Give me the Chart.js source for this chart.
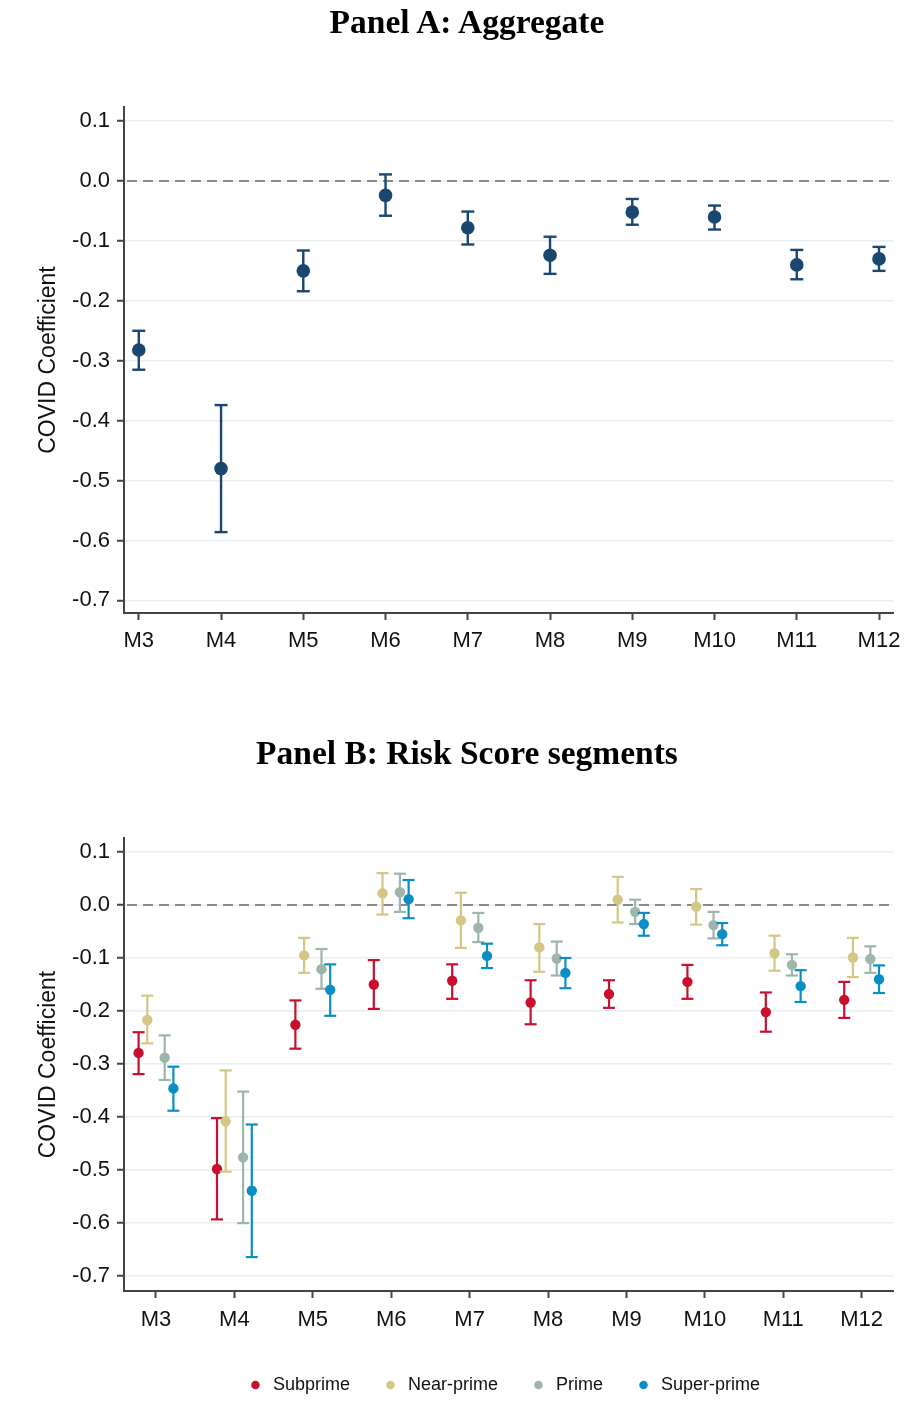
<!DOCTYPE html>
<html>
<head>
<meta charset="utf-8">
<script src="https://cdn.jsdelivr.net/npm/chart.js@4.4.1/dist/chart.umd.min.js"></script>
<style>
html,body{margin:0;padding:0;background:#fff;}
#page{position:relative;width:904px;height:1425px;overflow:hidden;background:#fff;}
.title{position:absolute;left:0;width:934px;text-align:center;font-family:"Liberation Serif",serif;font-weight:bold;font-size:33.5px;line-height:40px;color:#000;z-index:2;}
.box{position:absolute;left:0;width:904px;}
</style>
</head>
<body>
<div id="page">
  <div class="title" style="top:2px;">Panel A: Aggregate</div>
  <div class="box" style="top:0px;height:680px;"><canvas id="chartA"></canvas></div>
  <div class="title" style="top:733px;">Panel B: Risk Score segments</div>
  <div class="box" style="top:700px;height:725px;"><canvas id="chartB"></canvas></div>
</div>
<script>
// ---------------- DATA ----------------
const categories = ['M3','M4','M5','M6','M7','M8','M9','M10','M11','M12'];
const yTickValues = [0.1, 0.0, -0.1, -0.2, -0.3, -0.4, -0.5, -0.6, -0.7];

// Panel A: aggregate
const aggCoef = [-0.282, -0.480, -0.150, -0.024, -0.078, -0.124, -0.052, -0.060, -0.140, -0.130];
const aggLow  = [-0.315, -0.586, -0.184, -0.058, -0.106, -0.155, -0.073, -0.081, -0.164, -0.150];
const aggHigh = [-0.250, -0.374, -0.116,  0.011, -0.051, -0.093, -0.030, -0.041, -0.115, -0.110];

// Panel B: risk score segments
const seriesNames = ['Subprime', 'Near-prime', 'Prime', 'Super-prime'];
const subCoef   = [-0.279, -0.498, -0.226, -0.150, -0.143, -0.184, -0.168, -0.145, -0.202, -0.179];
const subLow    = [-0.319, -0.593, -0.271, -0.196, -0.177, -0.225, -0.194, -0.177, -0.239, -0.213];
const subHigh   = [-0.240, -0.402, -0.180, -0.104, -0.112, -0.142, -0.142, -0.113, -0.165, -0.145];
const nearCoef  = [-0.217, -0.408, -0.095,  0.022, -0.029, -0.080,  0.010, -0.003, -0.091, -0.099];
const nearLow   = [-0.261, -0.503, -0.128, -0.018, -0.081, -0.126, -0.033, -0.037, -0.124, -0.136];
const nearHigh  = [-0.171, -0.312, -0.062,  0.060,  0.023, -0.036,  0.053,  0.030, -0.058, -0.062];
const primeCoef = [-0.288, -0.476, -0.121,  0.024, -0.043, -0.101, -0.013, -0.038, -0.113, -0.102];
const primeLow  = [-0.330, -0.600, -0.158, -0.013, -0.070, -0.133, -0.036, -0.063, -0.133, -0.128];
const primeHigh = [-0.246, -0.352, -0.083,  0.059, -0.015, -0.069,  0.010, -0.013, -0.093, -0.078];
const superCoef = [-0.346, -0.539, -0.160,  0.011, -0.096, -0.128, -0.036, -0.055, -0.153, -0.140];
const superLow  = [-0.388, -0.664, -0.209, -0.025, -0.119, -0.157, -0.058, -0.076, -0.183, -0.166];
const superHigh = [-0.305, -0.414, -0.112,  0.047, -0.073, -0.100, -0.015, -0.034, -0.123, -0.114];

// ---------------- STYLE ----------------
const NAVY = '#1a476f';
const seriesColors = ['#c8102e', '#d4c684', '#9db5ab', '#0b8ec4'];
const seriesOffsets = [-0.222, -0.111, 0.111, 0.222];
const TICK_FONT = {family: 'Liberation Sans, Arial, sans-serif', size: 22};
const AXIS_COLOR = '#444';

function barData(low, high, off) {
  const d = [];
  low.forEach((l, i) => {
    d.push({x: i + off, y: l});
    d.push({x: i + off, y: high[i]});
    d.push({x: i + off, y: null});
  });
  return d;
}
function pointData(coef, off) {
  return coef.map((v, i) => ({x: i + off, y: v}));
}

const zeroLine = {
  id: 'zeroLine',
  beforeDatasetsDraw(chart) {
    const {ctx, chartArea: a, scales: {y}} = chart;
    const py = y.getPixelForValue(0);
    ctx.save();
    ctx.strokeStyle = '#888888';
    ctx.lineWidth = 2;
    ctx.setLineDash([10, 6]);
    ctx.beginPath();
    ctx.moveTo(a.left + 3, py);
    ctx.lineTo(a.right - 2, py);
    ctx.stroke();
    ctx.restore();
  }
};

const centerLegend = {
  id: 'centerLegend',
  afterLayout(chart) {
    const lg = chart.legend;
    if (!lg || !lg.options.display) return;
    const a = chart.chartArea;
    const shift = (a.left + a.right) / 2 - 5 - (lg.left + lg.right) / 2;
    lg.left += shift;
    lg.right += shift;
  }
};

function makeScales(xmin, xmax, ymin, ymax, xHeight, xPad) {
  return {
    x: {
      type: 'linear', min: xmin, max: xmax,
      afterBuildTicks(s) { s.ticks = categories.map((c, i) => ({value: i})); },
      afterFit(s) { s.height = xHeight; s.paddingLeft = 0; s.paddingRight = 0; },
      ticks: {
        callback: (v) => categories[v],
        font: TICK_FONT, color: '#111', padding: xPad, autoSkip: false, maxRotation: 0
      },
      grid: {drawOnChartArea: false, drawTicks: true, tickLength: 7, tickColor: AXIS_COLOR, tickWidth: 2},
      border: {display: true, color: AXIS_COLOR, width: 2}
    },
    y: {
      type: 'linear', min: ymin, max: ymax,
      afterBuildTicks(s) { s.ticks = yTickValues.map(v => ({value: v})); },
      afterFit(s) { s.width = 124; },
      ticks: {
        callback: (v) => Number(v).toFixed(1),
        font: TICK_FONT, color: '#111', padding: 7
      },
      grid: {color: '#e8eef2', lineWidth: 1.5, drawTicks: true, tickLength: 7, tickColor: AXIS_COLOR, tickWidth: 2},
      border: {display: true, color: AXIS_COLOR, width: 2},
      title: {
        display: true, text: 'COVID Coefficient',
        font: {family: 'Liberation Sans, Arial, sans-serif', size: 23}, color: '#111',
        padding: {top: 35, bottom: 0}
      }
    }
  };
}

function errorBarDataset(label, low, high, off, color, cap, lw, order) {
  return {
    type: 'line', label: label, isErrorBar: true,
    data: barData(low, high, off),
    borderColor: color, borderWidth: lw, spanGaps: false, tension: 0, fill: false,
    pointStyle: 'line', pointRadius: cap, pointBorderColor: color, pointBorderWidth: lw,
    pointBackgroundColor: color, pointHoverRadius: cap, order: order
  };
}
function pointDataset(label, coef, off, color, r, order) {
  return {
    type: 'scatter', label: label,
    data: pointData(coef, off), showLine: false,
    pointStyle: 'circle', pointRadius: r, pointHoverRadius: r,
    pointBackgroundColor: color, backgroundColor: color,
    pointBorderWidth: 0, borderColor: color, order: order
  };
}

// ---------------- PANEL A ----------------
new Chart(document.getElementById('chartA'), {
  type: 'scatter',
  data: {
    datasets: [
      errorBarDataset('Aggregate CI', aggLow, aggHigh, 0, NAVY, 6.5, 2.4, 2),
      pointDataset('Aggregate', aggCoef, 0, NAVY, 6.8, 1)
    ]
  },
  options: {
    responsive: true, maintainAspectRatio: false, animation: false,
    layout: {padding: {left: 0, right: 11, top: 107, bottom: 27}},
    plugins: {legend: {display: false}, tooltip: {enabled: false}, title: {display: false}},
    scales: makeScales(-0.18, 9.17, -0.721, 0.1235, 40, 8)
  },
  plugins: [zeroLine]
});

// ---------------- PANEL B ----------------
const coefs = [subCoef, nearCoef, primeCoef, superCoef];
const lows = [subLow, nearLow, primeLow, superLow];
const highs = [subHigh, nearHigh, primeHigh, superHigh];
const dsB = [];
seriesNames.forEach((name, k) => {
  const base = (seriesNames.length - k) * 2;
  dsB.push(pointDataset(name, coefs[k], seriesOffsets[k], seriesColors[k], 5.2, base - 1));
  dsB.push(errorBarDataset(name + ' CI', lows[k], highs[k], seriesOffsets[k], seriesColors[k], 6, 2.2, base));
});

new Chart(document.getElementById('chartB'), {
  type: 'scatter',
  data: {datasets: dsB},
  options: {
    responsive: true, maintainAspectRatio: false, animation: false,
    layout: {padding: {left: 0, right: 11, top: 138, bottom: 21}},
    plugins: {
      tooltip: {enabled: false},
      legend: {
        display: true, position: 'bottom', align: 'center',
        labels: {
          filter: (item, data) => !data.datasets[item.datasetIndex].isErrorBar,
          sort: (a, b) => a.datasetIndex - b.datasetIndex,
          usePointStyle: true, boxHeight: 6, boxWidth: 17,
          font: {family: 'Liberation Sans, Arial, sans-serif', size: 18}, color: '#111', padding: 32
        }
      }
    },
    scales: makeScales(-0.408, 9.40, -0.728, 0.1263, 53, 9)
  },
  plugins: [zeroLine, centerLegend]
});
</script>
</body>
</html>
